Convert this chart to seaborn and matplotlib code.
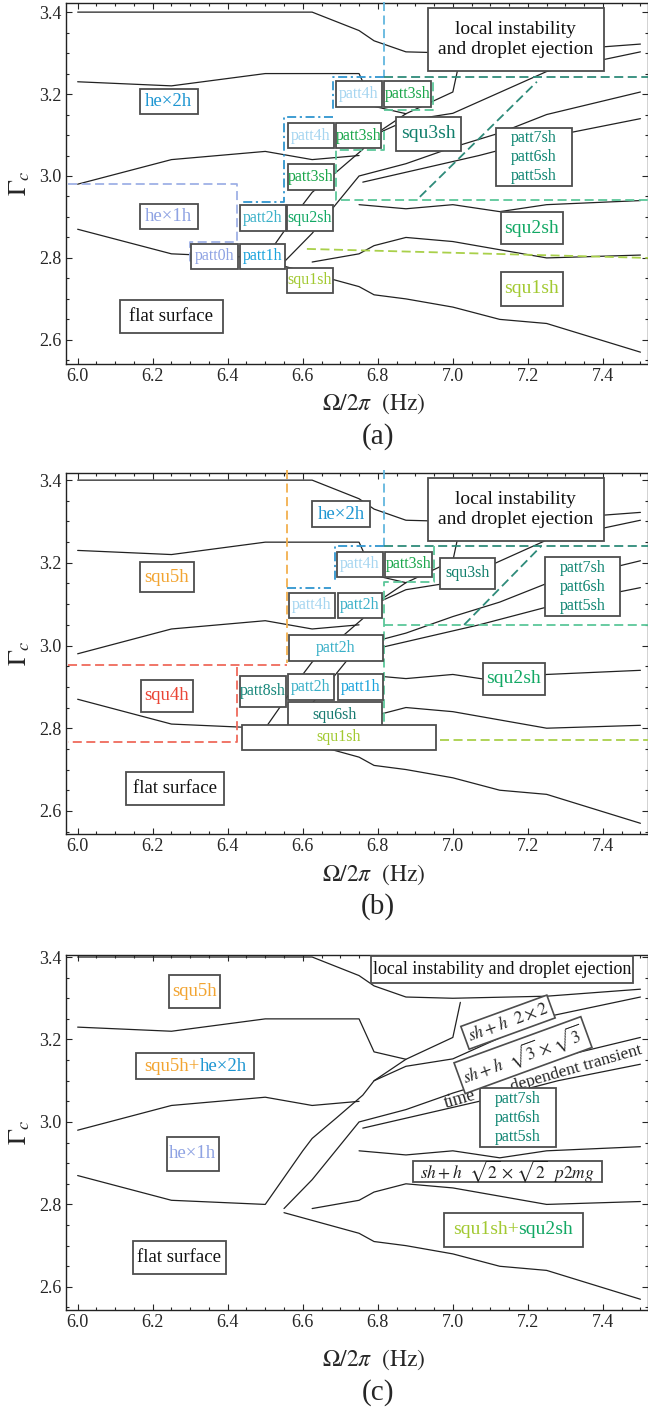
import pandas as pd
import seaborn as sns
import matplotlib.pyplot as plt
from matplotlib.patches import Rectangle
from matplotlib.ticker import MultipleLocator

# ---- phase boundaries: driving frequency (Hz) vs critical acceleration ----
f_top = [6.0, 6.25, 6.5, 6.625, 6.75, 6.79, 6.875, 7.0, 7.25, 7.5]
g_top = [3.40, 3.40, 3.40, 3.40, 3.355, 3.33, 3.303, 3.30, 3.305, 3.322]
f_l2 = [6.0, 6.25, 6.5, 6.75, 6.79, 6.875]
g_l2 = [3.23, 3.22, 3.25, 3.25, 3.17, 3.152]
f_l3 = [6.0, 6.25, 6.5, 6.625, 6.75]
g_l3 = [2.98, 3.04, 3.06, 3.04, 3.05]
f_l4 = [6.0, 6.25, 6.5, 6.6, 6.625, 6.69, 6.76, 6.79, 6.875, 7.0, 7.02]
g_l4 = [2.87, 2.81, 2.80, 2.93, 2.96, 3.01, 3.065, 3.10, 3.152, 3.205, 3.29]
f_mid = [6.79, 6.875, 7.0, 7.25, 7.5]
g_mid = [3.10, 3.135, 3.153, 3.255, 3.303]
f_rd = [6.55, 6.625, 6.75, 6.875, 7.0, 7.125, 7.25, 7.5]
g_rd = [2.79, 2.86, 3.0, 3.03, 3.07, 3.105, 3.15, 3.205]
f_td = [6.76, 7.07, 7.28, 7.5]
g_td = [2.985, 3.05, 3.10, 3.14]
f_sq2 = [6.75, 6.875, 7.0, 7.125, 7.25, 7.5]
g_sq2 = [2.93, 2.92, 2.93, 2.913, 2.93, 2.94]
f_sq1 = [6.625, 6.75, 6.79, 6.875, 7.0, 7.125, 7.25, 7.5]
g_sq1 = [2.79, 2.81, 2.83, 2.85, 2.84, 2.82, 2.80, 2.807]
f_bot = [6.55, 6.75, 6.79, 6.875, 7.0, 7.125, 7.25, 7.5]
g_bot = [2.78, 2.73, 2.71, 2.70, 2.68, 2.65, 2.64, 2.57]

segs = [(f_top, g_top), (f_l2, g_l2), (f_l3, g_l3), (f_l4, g_l4), (f_mid, g_mid),
        (f_rd, g_rd), (f_td, g_td), (f_sq2, g_sq2), (f_sq1, g_sq1), (f_bot, g_bot)]
rows = []
for i, (fs, gs) in enumerate(segs):
    for f, g in zip(fs, gs):
        rows.append({'seg': i, 'f': f, 'g': g})
bounds = pd.DataFrame(rows)

# ---- dashed region outlines, panel (a) and (b) ----
XR = 7.52
C_SKY, C_BLUE, C_GREEN, C_TEAL = '#62b6de', '#2f95cf', '#5cc79a', '#2e8b7a'
C_PERI, C_YG, C_ORA, C_RED = '#9fb1e6', '#a9d04a', '#f2b04e', '#ef6a5c'
DASH, DDOT = (5, 2.5), (5, 2, 1.2, 2)

dashed_a = [
    ([6.816, 6.816], [3.425, 3.241], C_SKY, DASH),
    ([6.816, 6.68, 6.68], [3.241, 3.241, 3.161], C_BLUE, DDOT),
    ([6.816, 6.947, 6.947], [3.161, 3.161, 3.241], C_GREEN, DASH),
    ([6.68, 6.549, 6.549, 6.432], [3.144, 3.144, 2.937, 2.937], C_BLUE, DDOT),
    ([6.816, 6.816, 6.688, 6.688, XR], [3.11, 3.063, 3.063, 2.941, 2.941], C_GREEN, DASH),
    ([5.975, 6.424, 6.424, 6.299, 6.299], [2.98, 2.98, 2.840, 2.840, 2.79], C_PERI, DASH),
    ([6.816, XR], [3.241, 3.241], C_TEAL, DASH),
    ([6.912, 7.224], [2.949, 3.23], C_TEAL, DASH),
    ([6.611, XR], [2.822, 2.80], C_YG, DASH),
]
dashed_b = [
    ([6.557, 6.557], [3.425, 2.958], C_ORA, DASH),
    ([5.975, 6.557], [2.953, 2.953], C_RED, DASH),
    ([6.426, 6.426, 5.975], [2.948, 2.767, 2.767], C_RED, DASH),
    ([6.816, 6.816], [3.425, 3.24], C_SKY, DASH),
    ([6.816, 6.685, 6.685], [3.24, 3.24, 3.158], C_BLUE, DDOT),
    ([6.557, 6.675], [3.139, 3.139], C_BLUE, DDOT),
    ([6.816, XR], [3.24, 3.24], C_TEAL, DASH),
    ([6.95, 6.95, 6.816, 6.816], [3.24, 3.154, 3.154, 2.815], C_GREEN, DASH),
    ([6.816, XR], [3.05, 3.05], C_GREEN, DASH),
    ([7.03, 7.235], [3.05, 3.24], C_TEAL, DASH),
    ([6.965, XR], [2.772, 2.772], C_YG, DASH),
]

# ---- label colours ----
K = '#111111'
HE2, HE1, P4H, P2H, P1H = '#1e96d2', '#8fa3e3', '#a5d5f0', '#3ab0c8', '#1aa3dc'
P3SH, SQU2, SQU3, P765 = '#1aa64a', '#12a864', '#117f6c', '#0f8572'
SQU1, SQU5, SQU4, P8, SQU6 = '#a2c931', '#f2a431', '#ea4535', '#17877a', '#15796f'
P765_TXT = 'patt7sh\npatt6sh\npatt5sh'
LOCAL2 = 'local instability\nand droplet ejection'
SM, MD, LG = 11.5, 13.5, 14

# (text, colour, size, x0, x1, y0, y1)
boxes_a = [
    ('he×2h', HE2, MD, 6.165, 6.320, 3.151, 3.212),
    ('he×1h', HE1, MD, 6.165, 6.320, 2.871, 2.932),
    ('flat surface', K, MD, 6.112, 6.387, 2.617, 2.698),
    ('patt0h', HE1, SM, 6.301, 6.427, 2.773, 2.834),
    ('patt1h', P1H, SM, 6.432, 6.552, 2.773, 2.834),
    ('patt2h', P2H, SM, 6.432, 6.555, 2.866, 2.929),
    ('squ2sh', SQU2, SM, 6.557, 6.680, 2.866, 2.929),
    ('squ1sh', SQU1, SM, 6.557, 6.680, 2.715, 2.776),
    ('patt3sh', P3SH, SM, 6.560, 6.683, 2.966, 3.029),
    ('patt4h', P4H, SM, 6.560, 6.683, 3.068, 3.129),
    ('patt3sh', P3SH, SM, 6.688, 6.808, 3.068, 3.129),
    ('patt4h', P4H, SM, 6.688, 6.811, 3.168, 3.232),
    ('patt3sh', P3SH, SM, 6.816, 6.941, 3.168, 3.232),
    ('squ3sh', SQU3, LG, 6.848, 7.021, 3.061, 3.144),
    (LOCAL2, K, LG, 6.933, 7.403, 3.256, 3.410),
    (P765_TXT, P765, SM, 7.115, 7.317, 2.976, 3.117),
    ('squ2sh', SQU2, LG, 7.128, 7.293, 2.834, 2.912),
    ('squ1sh', SQU1, LG, 7.128, 7.293, 2.683, 2.766),
]
boxes_b = [
    ('he×2h', HE2, MD, 6.624, 6.779, 3.286, 3.349),
    (LOCAL2, K, LG, 6.933, 7.403, 3.253, 3.405),
    ('squ5h', SQU5, MD, 6.165, 6.309, 3.129, 3.202),
    ('patt4h', P4H, SM, 6.691, 6.813, 3.166, 3.226),
    ('patt3sh', P3SH, SM, 6.819, 6.944, 3.166, 3.226),
    ('squ3sh', SQU3, SM, 6.965, 7.112, 3.137, 3.212),
    (P765_TXT, P765, SM, 7.245, 7.445, 3.071, 3.214),
    ('patt4h', P4H, SM, 6.563, 6.685, 3.067, 3.127),
    ('patt2h', P2H, SM, 6.693, 6.811, 3.067, 3.127),
    ('patt2h', P2H, SM, 6.563, 6.813, 2.963, 3.026),
    ('squ4h', SQU4, MD, 6.168, 6.307, 2.840, 2.917),
    ('flat surface', K, MD, 6.128, 6.389, 2.615, 2.695),
    ('patt8sh', P8, SM, 6.432, 6.555, 2.852, 2.927),
    ('patt2h', P2H, SM, 6.560, 6.683, 2.869, 2.931),
    ('patt1h', P1H, SM, 6.693, 6.813, 2.869, 2.931),
    ('squ6sh', SQU6, SM, 6.560, 6.811, 2.801, 2.864),
    ('squ1sh', SQU1, SM, 6.437, 6.955, 2.748, 2.808),
    ('squ2sh', SQU2, LG, 7.080, 7.245, 2.881, 2.958),
]
boxes_c = [
    ('local instability and droplet ejection', K, 13, 6.781, 7.480, 3.337, 3.402),
    ('squ5h', SQU5, MD, 6.243, 6.379, 3.276, 3.356),
    ('', K, MD, 6.155, 6.469, 3.104, 3.167),
    ('he×1h', HE1, MD, 6.237, 6.376, 2.881, 2.964),
    ('flat surface', K, MD, 6.147, 6.395, 2.632, 2.712),
    (P765_TXT, P765, SM, 7.072, 7.275, 2.939, 3.082),
    (r'$sh + h\ \ \sqrt{2}\times\,\sqrt{2}\ \ p2mg$', '#222222', 12.5, 6.893, 7.397, 2.855, 2.905),
    ('', K, LG, 6.976, 7.347, 2.697, 2.779),
]

sns.set_style('ticks')
plt.rcParams['font.family'] = ['Liberation Serif', 'DejaVu Serif']
plt.rcParams['mathtext.fontset'] = 'stix'

fig = plt.figure(figsize=(6.48, 14.11), dpi=100)
panels = [
    ('(a)', [0.1019, 0.742, 0.898, 0.2558], (2.541, 3.422), dashed_a, boxes_a, 0.7137, 0.6903),
    ('(b)', [0.1019, 0.4089, 0.898, 0.2558], (2.544, 3.417), dashed_b, boxes_b, 0.3799, 0.3572),
    ('(c)', [0.1019, 0.0716, 0.898, 0.2516], (2.544, 3.405), [], boxes_c, 0.0361, 0.0128),
]

axes = []
for tag, pos, ylim, dashed, boxes, ylab_y, tag_y in panels:
    ax = fig.add_axes(pos)
    axes.append(ax)
    sns.lineplot(data=bounds, x='f', y='g', units='seg', estimator=None, sort=False,
                 color='#222222', lw=0.9, ax=ax, legend=False)
    for xs, ys, c, d in dashed:
        ax.plot(xs, ys, color=c, lw=1.3, dashes=d, zorder=3, clip_on=False)
    for txt, c, fs, x0, x1, y0, y1 in boxes:
        ax.add_patch(Rectangle((x0, y0), x1 - x0, y1 - y0, fc='white', ec='#4d4d4d',
                               lw=1.3, zorder=5, clip_on=False))
        if txt:
            ax.text((x0 + x1) / 2, (y0 + y1) / 2, txt, color=c, fontsize=fs, ha='center',
                    va='center', zorder=6, linespacing=1.25, multialignment='center')
    ax.set_xlim(5.969, 7.52)
    ax.set_ylim(*ylim)
    ax.xaxis.set_major_locator(MultipleLocator(0.2))
    ax.xaxis.set_minor_locator(MultipleLocator(0.05))
    ax.yaxis.set_major_locator(MultipleLocator(0.2))
    ax.yaxis.set_minor_locator(MultipleLocator(0.05))
    ax.xaxis.set_major_formatter(plt.FuncFormatter(lambda v, p: f'{v:.1f}'))
    ax.yaxis.set_major_formatter(plt.FuncFormatter(lambda v, p: f'{v:.1f}'))
    ax.tick_params(which='both', direction='in', top=True, right=True, labelsize=13,
                   width=0.8, pad=3)
    ax.tick_params(which='major', length=4.5)
    ax.tick_params(which='minor', length=2.5)
    for s in ax.spines.values():
        s.set_linewidth(1.0)
        s.set_color('#222222')
    ax.set_xlabel('')
    ax.set_ylabel('')
    mid = pos[1] + pos[3] / 2
    fig.text(0.03, mid, r'$\Gamma_c$', rotation=90, fontsize=19, ha='center', va='center')
    fig.text(0.576, ylab_y, r'$\Omega/2\pi\ \ (\mathrm{Hz})$', fontsize=17, ha='center',
             va='center')
    fig.text(0.583, tag_y, tag, fontsize=21, ha='center', va='center')

# two-coloured labels in panel (c)
axc = axes[2]
axc.text(6.325, 3.1355, 'squ5h+', color=SQU5, fontsize=MD, ha='right', va='center', zorder=6)
axc.text(6.325, 3.1355, 'he×2h', color=HE2, fontsize=MD, ha='left', va='center', zorder=6)
axc.text(7.175, 2.738, 'squ1sh+', color=SQU1, fontsize=LG, ha='right', va='center', zorder=6)
axc.text(7.175, 2.738, 'squ2sh', color=SQU2, fontsize=LG, ha='left', va='center', zorder=6)

# rotated annotations in panel (c)
bb = dict(boxstyle='square,pad=0.2', fc='white', ec='#4d4d4d', lw=1.2)
axc.text(7.147, 3.242, r'$sh + h\ \ 2\times 2$', rotation=20, fontsize=12.5, ha='center',
         va='center', rotation_mode='anchor', bbox=bb, zorder=6)
axc.text(7.187, 3.162, r'$sh + h\ \ \sqrt{3}\times\,\sqrt{3}$', rotation=20, fontsize=12.5,
         ha='center', va='center', rotation_mode='anchor', bbox=bb, zorder=6)
axc.text(7.019, 3.056, 'time', rotation=16, fontsize=13, ha='center', va='center',
         rotation_mode='anchor', zorder=4)
axc.text(7.33, 3.13, 'dependent transient', rotation=16, fontsize=12.5, ha='center',
         va='center', rotation_mode='anchor', zorder=4, clip_on=False)

fig.savefig('out.png', dpi=100)
